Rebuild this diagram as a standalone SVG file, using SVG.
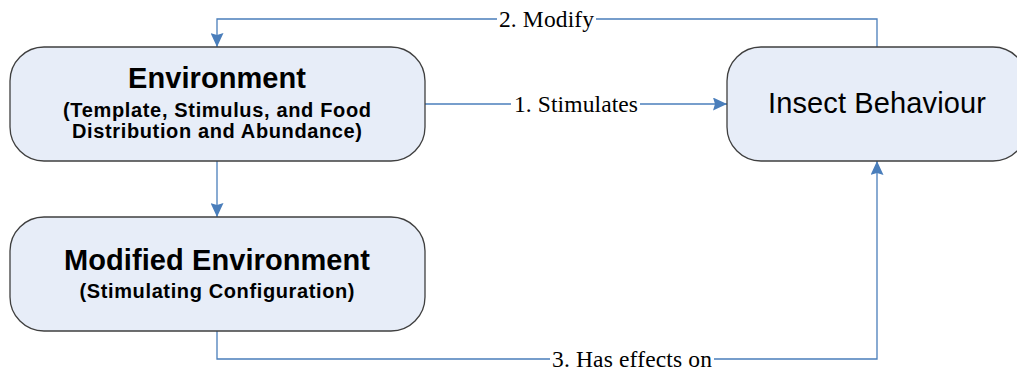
<svg xmlns="http://www.w3.org/2000/svg" width="1017" height="372" viewBox="0 0 1017 372">
  <style>
    .box { fill: #E7EDF8; stroke: #3F3F3F; stroke-width: 1.3; }
    .link { fill: none; stroke: #4A7EBB; stroke-width: 1.3; }
    .title { font-family: "Liberation Sans", Arial, sans-serif; font-weight: bold; font-size: 29px; fill: #000; text-anchor: middle; }
    .sub { font-family: "Liberation Sans", Arial, sans-serif; font-weight: bold; font-size: 20px; fill: #000; text-anchor: middle; }
    .plain { font-family: "Liberation Sans", Arial, sans-serif; font-size: 29px; fill: #000; text-anchor: middle; }
    .label { font-family: "Liberation Serif", "Times New Roman", serif; font-size: 23.5px; fill: #000; text-anchor: middle; }
    .gap { fill: #FFFFFF; }
  </style>
  <defs>
    <marker id="arrow" viewBox="0 0 14 13" refX="14" refY="6.5" markerWidth="14" markerHeight="13" markerUnits="userSpaceOnUse" orient="auto">
      <path d="M0,0 L14,6.5 L0,13 L2,6.5 Z" fill="#4A7EBB"/>
    </marker>
  </defs>

  <!-- connectors -->
  <g id="connectors">
    <!-- 1. Stimulates -->
    <path class="link" d="M425,104 H727" marker-end="url(#arrow)"/>
    <rect class="gap" x="511" y="92" width="129" height="24"/>
    <text class="label" x="576" y="112" textLength="124" lengthAdjust="spacing">1. Stimulates</text>
    <!-- 2. Modify -->
    <path class="link" d="M877,47 V19 H217 V47" marker-end="url(#arrow)"/>
    <rect class="gap" x="497" y="7" width="99" height="24"/>
    <text class="label" x="546.5" y="27" textLength="95" lengthAdjust="spacing">2. Modify</text>
    <!-- Environment to Modified Environment -->
    <path class="link" d="M217,161 V217" marker-end="url(#arrow)"/>
    <!-- 3. Has effects on -->
    <path class="link" d="M217,331 V359 H877 V161" marker-end="url(#arrow)"/>
    <rect class="gap" x="550" y="347" width="164" height="25"/>
    <text class="label" x="632" y="367" textLength="160" lengthAdjust="spacing">3. Has effects on</text>
  </g>

  <!-- nodes -->
  <g id="environment">
    <rect class="box" x="10" y="47" width="415" height="114" rx="34" ry="34"/>
    <text class="title" x="217" y="88" textLength="178" lengthAdjust="spacing">Environment</text>
    <text class="sub" x="217" y="116.5" textLength="308" lengthAdjust="spacing">(Template, Stimulus, and Food</text>
    <text class="sub" x="217" y="137.5" textLength="290" lengthAdjust="spacing">Distribution and Abundance)</text>
  </g>

  <g id="modified-environment">
    <rect class="box" x="10" y="217" width="415" height="114" rx="34" ry="34"/>
    <text class="title" x="217" y="270" textLength="306" lengthAdjust="spacing">Modified Environment</text>
    <text class="sub" x="217" y="298" textLength="275" lengthAdjust="spacing">(Stimulating Configuration)</text>
  </g>

  <g id="insect-behaviour">
    <rect class="box" x="727" y="47" width="300" height="114" rx="34" ry="34"/>
    <text class="plain" x="877" y="113" textLength="218" lengthAdjust="spacing">Insect Behaviour</text>
  </g>
</svg>
